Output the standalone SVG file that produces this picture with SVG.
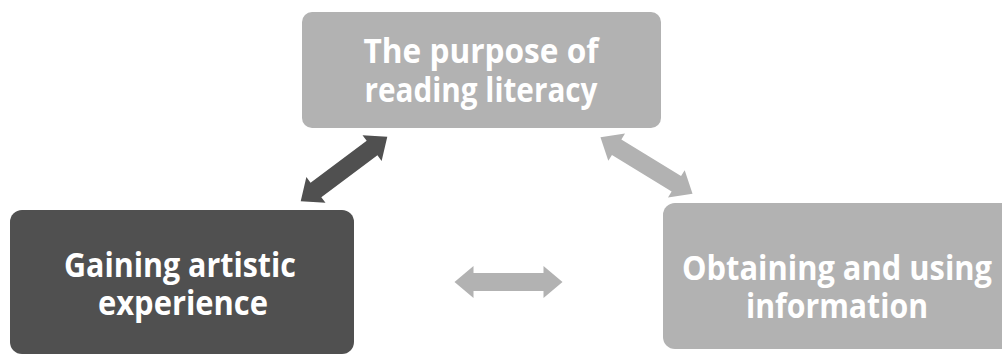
<svg xmlns="http://www.w3.org/2000/svg" xmlns:xlink="http://www.w3.org/1999/xlink" width="1002" height="357" viewBox="0 0 1002 357">
  <style>
    .box-light { fill: #b2b2b2; }
    .box-dark { fill: #505050; }
    .label { font-family: "Open Sans", "Liberation Sans", sans-serif; font-weight: bold; font-size: 34px; fill: #ffffff; text-anchor: middle; }
  </style>
  <defs>
    <!-- double-headed block arrow, centred on the origin, pointing along x -->
    <path id="dbl-arrow" d="M-54,0 L-35,-16 L-35,-9 L35,-9 L35,-16 L54,0 L35,16 L35,9 L-35,9 L-35,16 Z"/>
  </defs>
  <rect width="1002" height="357" fill="#ffffff"/>

  <g id="connectors">
    <use xlink:href="#dbl-arrow" fill="#505050" transform="translate(344,169) rotate(-36.7)"/>
    <use xlink:href="#dbl-arrow" fill="#b2b2b2" transform="translate(646.5,165.5) rotate(31.5)"/>
    <use xlink:href="#dbl-arrow" fill="#b2b2b2" transform="translate(508.5,282)"/>
  </g>

  <g id="node-purpose">
    <rect class="box-light" x="302" y="12" width="359" height="116" rx="10"/>
    <text class="label" x="481" y="63" textLength="235" lengthAdjust="spacingAndGlyphs">The purpose of</text>
    <text class="label" x="481" y="102" textLength="233" lengthAdjust="spacingAndGlyphs">reading literacy</text>
  </g>

  <g id="node-artistic">
    <rect class="box-dark" x="10" y="210" width="344" height="144" rx="12"/>
    <text class="label" x="180" y="277" textLength="232" lengthAdjust="spacingAndGlyphs">Gaining artistic</text>
    <text class="label" x="183" y="315" textLength="170" lengthAdjust="spacingAndGlyphs">experience</text>
  </g>

  <g id="node-information">
    <rect class="box-light" x="663" y="203" width="350" height="146" rx="12"/>
    <text class="label" x="837" y="280" textLength="310" lengthAdjust="spacingAndGlyphs">Obtaining and using</text>
    <text class="label" x="837" y="318" textLength="182" lengthAdjust="spacingAndGlyphs">information</text>
  </g>
</svg>
